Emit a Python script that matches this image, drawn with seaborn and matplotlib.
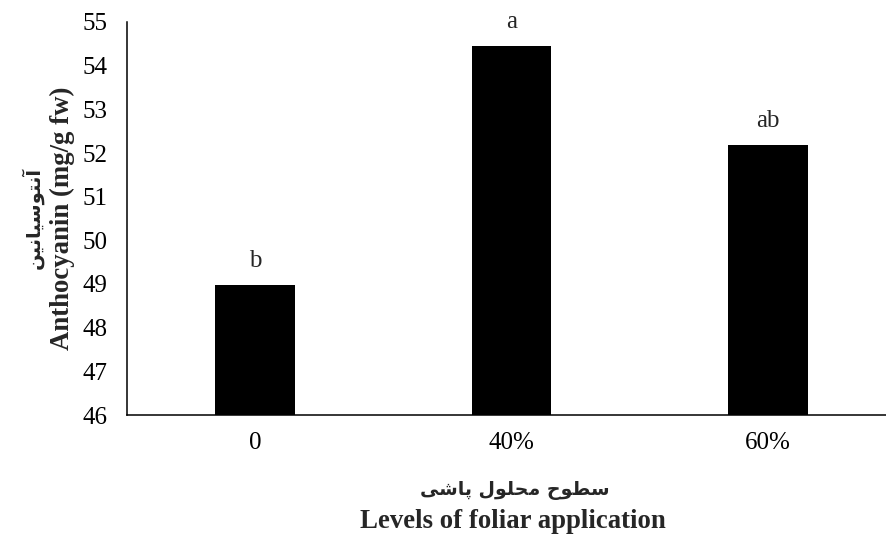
import matplotlib
matplotlib.use("Agg")
import matplotlib.pyplot as plt
import seaborn as sns
import pandas as pd

# Data
levels = ["0", "40%", "60%"]
anthocyanin = [48.97, 54.45, 52.18]
groups = ["b", "a", "ab"]
y_ticks = [46, 47, 48, 49, 50, 51, 52, 53, 54, 55]

# Persian labels written in presentation forms, visual (left-to-right) order
fa_ylabel = "\uFEE6\uFEF4\uFEE7\uFE8E\uFEF4\uFEB3\uFEEE\uFE98\uFEE7\uFE81"
fa_xlabel = ("\uFEF0\uFEB7\uFE8E\uFB58" + " " +
             "\uFEDD\uFEEE\uFEE0\uFEA4\uFEE3" + " " +
             "\uFEA1\uFEEE\uFEC4\uFEB3")
en_ylabel = "Anthocyanin (mg/g fw)"
en_xlabel = "Levels of foliar application"

df = pd.DataFrame({"level": levels, "value": anthocyanin})

sns.set_style("white")
plt.rcParams["font.family"] = ["Liberation Serif", "DejaVu Sans"]

W, H = 887, 536
fig = plt.figure(figsize=(W / 100, H / 100), dpi=100)
ax = fig.add_axes([127 / W, 1 - 415 / H, (887 - 127) / W, (415 - 22) / H])

sns.barplot(data=df, x="level", y="value", color="black", width=0.31,
            saturation=1, ax=ax, edgecolor="none")

ax.set_ylim(46, 55)
ax.set_xlim(-0.5, 2.5 - 9 / 256)
ax.set_yticks(y_ticks)
ax.set_yticklabels([str(t) for t in y_ticks])
ax.tick_params(axis="both", length=0, labelsize=18, colors="black")
ax.tick_params(axis="y", pad=14)
ax.tick_params(axis="x", pad=12)
ax.set_xlabel("")
ax.set_ylabel("")

for side in ["top", "right"]:
    ax.spines[side].set_visible(False)
for side in ["left", "bottom"]:
    ax.spines[side].set_color("black")
    ax.spines[side].set_linewidth(1.1)

# Significance letters above each bar
for i, (v, g) in enumerate(zip(anthocyanin, groups)):
    ax.annotate(g, xy=(i, v), xytext=(0, 13), textcoords="offset points",
                ha="center", va="baseline", fontsize=18)

# Axis titles (Persian + English)
fig.text(32 / W, 1 - 218 / H, fa_ylabel, rotation=90, ha="center", va="center",
         fontsize=14, fontweight="bold", family="DejaVu Sans")
fig.text(62 / W, 1 - 218 / H, en_ylabel, rotation=90, ha="center", va="center",
         fontsize=19.3, fontweight="bold")
fig.text(515 / W, 1 - 491 / H, fa_xlabel, ha="center", va="center",
         fontsize=13.6, fontweight="bold", family="DejaVu Sans")
fig.text(513 / W, 1 - 521 / H, en_xlabel, ha="center", va="center",
         fontsize=19.3, fontweight="bold")

fig.savefig("out.png", dpi=100, facecolor="white")
